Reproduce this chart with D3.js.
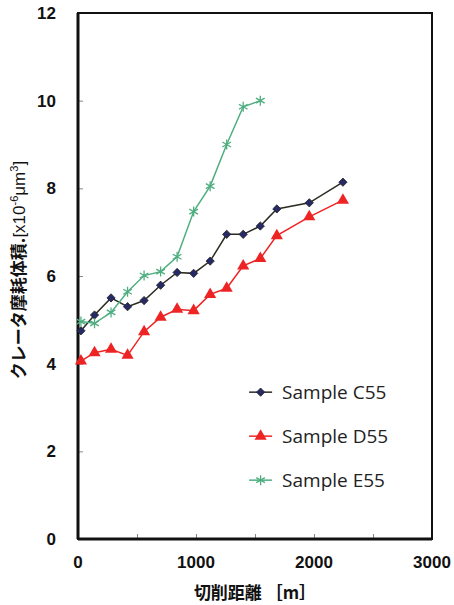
<!DOCTYPE html>
<html>
<head>
<meta charset="utf-8">
<script src="https://cdn.jsdelivr.net/npm/d3@7"></script>
<style>
  body { margin: 0; background: #fff; }
  .tick-label { font-family: "Liberation Sans", Arial, sans-serif; font-weight: bold; font-size: 17px; fill: #111; }
  .axis-title { font-family: "Noto Sans CJK JP", sans-serif; font-weight: bold; font-size: 17px; fill: #111; }
  .legend-label { font-family: "Open Sans", sans-serif; font-size: 19px; fill: #222; }
</style>
</head>
<body>
<svg id="chart"></svg>
<script>
// cutting distance [m]
const distC = [25, 140, 280, 420, 560, 700, 840, 980, 1120, 1260, 1400, 1545, 1685, 1960, 2245];
const distD = [25, 140, 280, 420, 560, 700, 840, 980, 1120, 1260, 1400, 1545, 1685, 1960, 2245];
const distE = [25, 140, 280, 420, 560, 700, 840, 980, 1120, 1260, 1400, 1545];

// crater wear volume [x10^-6 um^3]
const volC = [4.75, 5.11, 5.50, 5.30, 5.44, 5.79, 6.08, 6.06, 6.34, 6.95, 6.95, 7.14, 7.53, 7.67, 8.14];
const volD = [4.06, 4.25, 4.33, 4.19, 4.73, 5.06, 5.24, 5.21, 5.58, 5.72, 6.23, 6.40, 6.92, 7.35, 7.73];
const volE = [4.96, 4.92, 5.17, 5.64, 6.01, 6.10, 6.44, 7.47, 8.05, 9.00, 9.86, 10.00];

const seriesNames = ["Sample C55", "Sample D55", "Sample E55"];
const xTicks = [0, 1000, 2000, 3000];
const yTicks = [0, 2, 4, 6, 8, 10, 12];

const series = [
  {name: seriesNames[0], x: distC, y: volC, line: "#2b2b22", fill: "#262a66", marker: "diamond"},
  {name: seriesNames[1], x: distD, y: volD, line: "#ee2424", fill: "#ee2424", marker: "triangle"},
  {name: seriesNames[2], x: distE, y: volE, line: "#4fae80", fill: "none", marker: "star"}
];

const W = 454, H = 605;
const margin = {top: 13, right: 22, bottom: 66, left: 78};
const width = W - margin.left - margin.right;
const height = H - margin.top - margin.bottom;

const svg = d3.select("#chart").attr("width", W).attr("height", H);
const g = svg.append("g").attr("transform", `translate(${margin.left},${margin.top})`);

const xScale = d3.scaleLinear().domain([0, 3000]).range([0, width]);
const yScale = d3.scaleLinear().domain([0, 12]).range([height, 0]);

// minor ticks inside the box
const xAxis = d3.axisTop(xScale).tickValues(d3.range(500, 3000, 500)).tickSize(5).tickFormat("");
const yAxis = d3.axisRight(yScale).tickValues(yTicks.slice(1, -1)).tickSize(5).tickFormat("");

g.append("g").attr("transform", `translate(0,${height})`).call(xAxis)
  .call(s => s.select(".domain").remove())
  .selectAll("line").attr("stroke", "#888");
g.append("g").call(yAxis)
  .call(s => s.select(".domain").remove())
  .selectAll("line").attr("stroke", "#888");

// frame
g.append("rect").attr("width", width).attr("height", height)
  .attr("fill", "none").attr("stroke", "#111").attr("stroke-width", 2);
g.append("line").attr("x1", 0).attr("x2", 0).attr("y1", 0).attr("y2", height)
  .attr("stroke", "#111").attr("stroke-width", 3);
g.append("line").attr("x1", 0).attr("x2", width).attr("y1", height).attr("y2", height)
  .attr("stroke", "#111").attr("stroke-width", 3);

// tick labels
g.selectAll(".ylab").data(yTicks).join("text")
  .attr("class", "tick-label")
  .attr("x", -22).attr("y", d => yScale(d)).attr("dy", "0.36em")
  .attr("text-anchor", "end").text(d => d);
g.selectAll(".xlab").data(xTicks).join("text")
  .attr("class", "tick-label")
  .attr("x", d => xScale(d)).attr("y", height + 29)
  .attr("text-anchor", "middle").text(d => d);

// axis titles
g.append("text").attr("class", "axis-title")
  .attr("x", width / 2).attr("y", height + 60)
  .attr("text-anchor", "middle").text("切削距離 ［m］");

const yt = svg.append("text").attr("class", "axis-title")
  .attr("transform", `translate(25,${margin.top + 257}) rotate(-90)`)
  .attr("text-anchor", "middle");
yt.append("tspan").text("クレータ摩耗体積.");
yt.append("tspan").style("font-family", "'Liberation Sans', Arial, sans-serif").style("font-weight", "normal").text("[x10");
yt.append("tspan").style("font-family", "'Liberation Sans', Arial, sans-serif").style("font-weight", "normal")
  .attr("font-size", 11).attr("dy", -7).text("-6");
yt.append("tspan").style("font-family", "'Liberation Sans', Arial, sans-serif").style("font-weight", "normal")
  .attr("dy", 7).text("μm");
yt.append("tspan").style("font-family", "'Liberation Sans', Arial, sans-serif").style("font-weight", "normal")
  .attr("font-size", 11).attr("dy", -7).text("3");
yt.append("tspan").style("font-family", "'Liberation Sans', Arial, sans-serif").style("font-weight", "normal")
  .attr("dy", 7).text("]");

function drawMarker(sel, s) {
  if (s.marker === "diamond") {
    sel.append("path").attr("d", d3.symbol(d3.symbolSquare, 34)())
      .attr("transform", "rotate(45)")
      .attr("fill", s.fill).attr("stroke", "#222").attr("stroke-width", 0.8);
  } else if (s.marker === "triangle") {
    sel.append("path").attr("d", d3.symbol(d3.symbolTriangle, 64)())
      .attr("fill", s.fill);
  } else {
    sel.append("path").attr("d", d3.symbol(d3.symbolAsterisk, 70)())
      .attr("fill", "none").attr("stroke", s.line).attr("stroke-width", 1.3);
  }
}

const line = d3.line().x(d => xScale(d[0])).y(d => yScale(d[1]));

series.forEach(s => {
  const pts = s.x.map((x, i) => [x, s.y[i]]);
  g.append("path").datum(pts).attr("d", line)
    .attr("fill", "none").attr("stroke", s.line).attr("stroke-width", 1.5);
  g.selectAll(null).data(pts).join("g")
    .attr("transform", d => `translate(${xScale(d[0])},${yScale(d[1])})`)
    .each(function() { drawMarker(d3.select(this), s); });
});

// legend
const legend = g.append("g").attr("transform", `translate(${xScale(1450)},${yScale(3.35)})`);
series.forEach((s, i) => {
  const row = legend.append("g").attr("transform", `translate(0,${i * 44})`);
  row.append("line").attr("x1", 0).attr("x2", 23)
    .attr("stroke", s.line).attr("stroke-width", 1.5);
  const m = row.append("g").attr("transform", "translate(11.5,0)");
  drawMarker(m, s);
  row.append("text").attr("class", "legend-label")
    .attr("x", 33).attr("dy", "0.35em").text(s.name);
});
</script>
</body>
</html>
